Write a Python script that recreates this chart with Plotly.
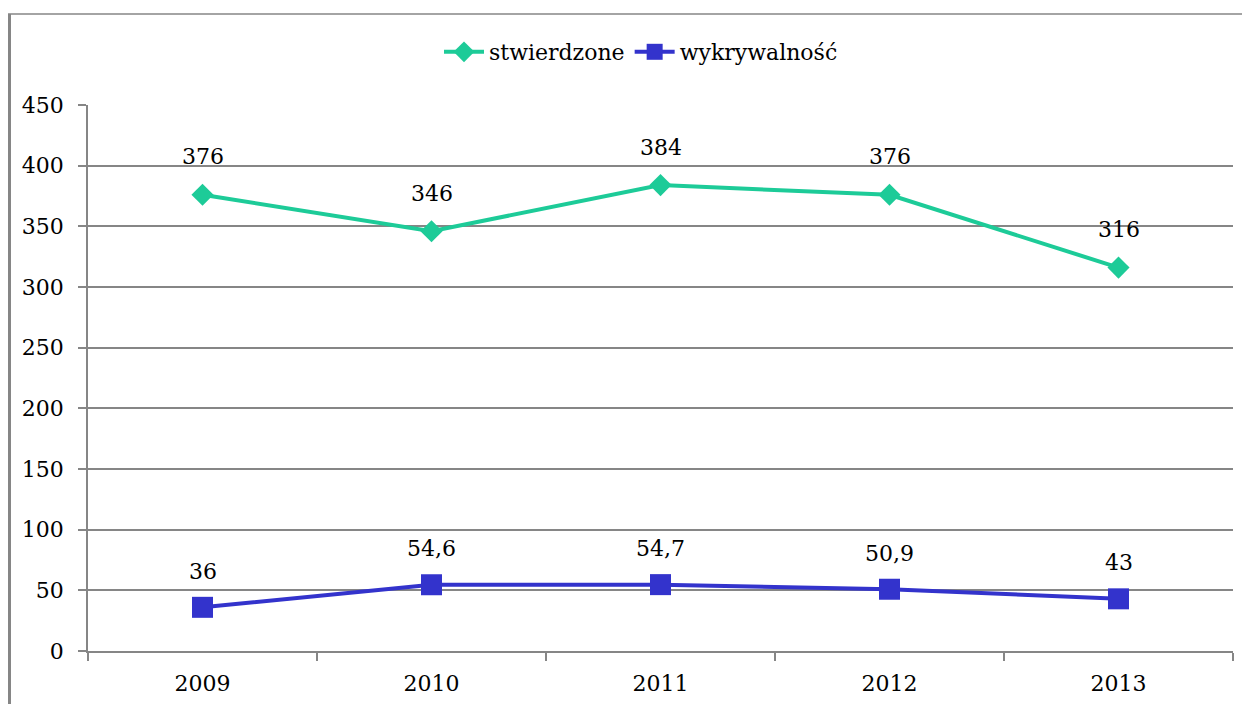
import plotly.graph_objects as go

years = ["2009", "2010", "2011", "2012", "2013"]
stwierdzone = [376, 346, 384, 376, 316]
wykrywalnosc = [36, 54.6, 54.7, 50.9, 43]
y_ticks = [0, 50, 100, 150, 200, 250, 300, 350, 400, 450]

GREEN = "#1DCB98"
BLUE = "#3333CC"
GRID = "#868686"
FONT = "DejaVu Serif"
FS = 22

# page body has an 8px margin, so figure is drawn 8px smaller/offset
OFF = 8
W, H = 1250 - OFF, 704 - OFF
L, R, T, B = 88 - OFF, 1250 - 1233, 105 - OFF, 704 - 651
pw, ph = W - L - R, H - T - B

fig = go.Figure()
fig.add_trace(go.Scatter(
    x=years, y=stwierdzone, name="stwierdzone", mode="lines+markers",
    line=dict(color=GREEN, width=4),
    marker=dict(symbol="diamond", size=17, color=GREEN),
))
fig.add_trace(go.Scatter(
    x=years, y=wykrywalnosc, name="wykrywalność", mode="lines+markers",
    line=dict(color=BLUE, width=4),
    marker=dict(symbol="square", size=21, color=BLUE),
))

def fmt(v):
    return ("%g" % v).replace(".", ",")

for ys, shift in ((stwierdzone, 38), (wykrywalnosc, 36)):
    for i, yv in enumerate(ys):
        fig.add_annotation(x=i, y=yv, xref="x", yref="y", text=fmt(yv), showarrow=False,
                           yshift=shift, font=dict(family=FONT, size=FS, color="#000000"))

def px(xp):
    return (xp - OFF - L) / pw

def py(yp):
    return (H - B - (yp - OFF)) / ph

fig.add_shape(type="line", xref="paper", yref="paper",
              x0=px(9.5), x1=px(9.5), y0=py(14), y1=py(704),
              line=dict(color=GRID, width=3))
fig.add_shape(type="line", xref="paper", yref="paper",
              x0=px(8), x1=px(1250), y0=py(14), y1=py(14),
              line=dict(color=GRID, width=1.5))

fig.update_layout(
    width=W, height=H,
    margin=dict(l=L, r=R, t=T, b=B, autoexpand=False),
    paper_bgcolor="white", plot_bgcolor="white",
    separators=", ",
    font=dict(family=FONT, size=FS, color="#000000"),
    showlegend=True,
    legend=dict(orientation="h", x=px(641), xanchor="center", y=py(52), yanchor="middle",
                font=dict(family=FONT, size=FS), itemwidth=40, tracegroupgap=0,
                bgcolor="rgba(0,0,0,0)"),
    xaxis=dict(
        type="category", showgrid=False, showline=True, linecolor=GRID, linewidth=1.5,
        ticks="outside", tickson="boundaries", ticklen=8, tickcolor=GRID, tickwidth=1.5,
        tickfont=dict(family=FONT, size=FS), range=[-0.5, 4.5], ticklabelstandoff=12,
        automargin=False,
    ),
    yaxis=dict(
        range=[0, 450], tickvals=y_ticks, showgrid=True, gridcolor=GRID, gridwidth=1.5,
        showline=True, linecolor=GRID, linewidth=1.5,
        ticks="outside", ticklen=8, tickcolor=GRID, tickwidth=1.5,
        tickfont=dict(family=FONT, size=FS), zeroline=False, ticklabelstandoff=10,
        automargin=False,
    ),
)

fig.write_html("out.html")
